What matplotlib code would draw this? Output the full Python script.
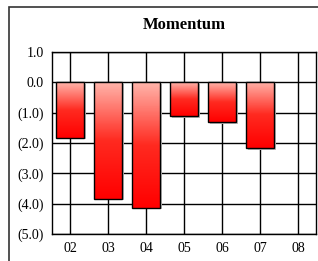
import numpy as np
import matplotlib.pyplot as plt
from matplotlib.colors import LinearSegmentedColormap
from matplotlib.patches import Rectangle

years = ['02', '03', '04', '05', '06', '07', '08']
momentum = [-1.82, -3.84, -4.13, -1.11, -1.31, -2.18, np.nan]
yticks = [1, 0, -1, -2, -3, -4, -5]
ylabels = ['1.0', '0.0', '(1.0)', '(2.0)', '(3.0)', '(4.0)', '(5.0)']

fig = plt.figure(figsize=(3.18, 2.61), dpi=100)
fig.patch.set_facecolor('white')

# outer frame, runs off the right and bottom edges
fig.add_artist(Rectangle((8.5 / 318, -0.1), 1.2, (261 - 6.5) / 261 + 0.1,
                         transform=fig.transFigure, fill=False,
                         edgecolor='#333333', linewidth=1.2))

ax = fig.add_axes([52 / 318, 27 / 261, 264 / 318, 182 / 261])
ax.set_xlim(-0.474, 6.47)
ax.set_ylim(-5, 1)

x = np.arange(len(years))
for yv in yticks:
    ax.axhline(yv, color='black', linewidth=1, zorder=1)
for xv in x:
    ax.axvline(xv, color='black', linewidth=1, zorder=1)

cmap = LinearSegmentedColormap.from_list('redgrad', ['#ffb4aa', '#ff2a20', '#ff0000'])
grad = np.linspace(0, 1, 100).reshape(-1, 1)
w = 0.74
for xi, v in zip(x, momentum):
    if np.isnan(v):
        continue
    # small shadow
    ax.add_patch(Rectangle((xi - w / 2 + 0.04, v - 0.05), w, -v, facecolor='#bbbbbb',
                           edgecolor='none', zorder=2))
    im = ax.imshow(grad, cmap=cmap, aspect='auto', extent=(xi - w / 2, xi + w / 2, v, 0),
                   origin='upper', zorder=3)
    bar = Rectangle((xi - w / 2, v), w, -v, facecolor='none', edgecolor='black',
                    linewidth=1, zorder=4)
    ax.add_patch(bar)
    im.set_clip_path(bar)

ax.set_xticks(x)
ax.set_xticklabels(years, fontfamily='Liberation Serif', fontsize=10)
ax.set_yticks(yticks)
ax.set_yticklabels(ylabels, fontfamily='Liberation Serif', fontsize=10)
ax.tick_params(length=0, pad=6)
for s in ax.spines.values():
    s.set_color('black')
    s.set_linewidth(1)

fig.text(184 / 318, 1 - 25 / 261, 'Momentum', ha='center', va='center',
         fontfamily='Liberation Serif', fontweight='bold', fontsize=12)

fig.savefig('out.png', dpi=100)
